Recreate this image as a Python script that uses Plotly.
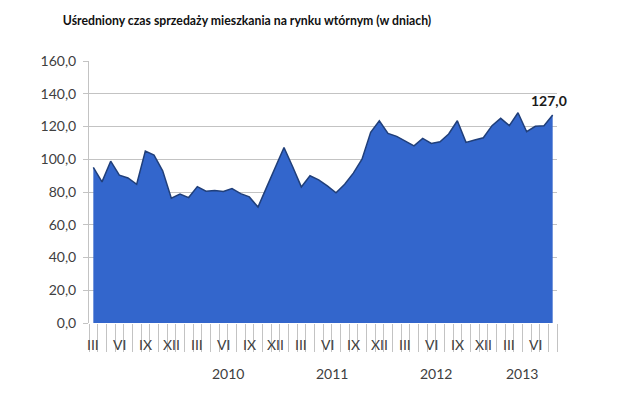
import plotly.graph_objects as go

# ---- data ----
roman = ["I", "II", "III", "IV", "V", "VI", "VII", "VIII", "IX", "X", "XI", "XII"]
year_labels = ["", "2010", "2011", "2012", "2013"]
year_first_month = [3, 1, 1, 1, 1]
year_month_count = [10, 12, 12, 12, 8]
shown_months = ["III", "VI", "IX", "XII"]
values = [95.0, 86.2, 98.8, 90.3, 88.6, 84.7, 105.0, 102.5, 92.9, 76.2,
          78.8, 76.6, 83.3, 80.5, 80.9, 80.3, 82.1, 79.0, 77.0, 70.8,
          83.0, 95.1, 107.2, 95.4, 83.1, 89.9, 87.4, 83.7, 79.5, 84.7,
          91.5, 100.0, 116.4, 123.5, 115.8, 114.0, 110.9, 108.2, 112.7, 109.7,
          110.7, 115.4, 123.5, 110.3, 111.7, 113.1, 120.5, 125.0, 120.5, 128.4,
          116.8, 120.1, 120.5, 127.0]
last_label = "127,0"
title = "Uśredniony czas sprzedaży mieszkania na rynku wtórnym (w dniach)"
y_ticks = [0, 20, 40, 60, 80, 100, 120, 140, 160]

# ---- derived categories ----
month_names = []
group_bounds = [-0.5]
for first, cnt in zip(year_first_month, year_month_count):
    for m in range(first, first + cnt):
        month_names.append(roman[m - 1])
    group_bounds.append(group_bounds[-1] + cnt)
x = list(range(len(values)))

TEXT = "#404040"
GRID = "#c3c3c3"
FONT = "Lato"

fig = go.Figure()
fig.add_trace(go.Scatter(
    x=x, y=values, mode="lines", fill="tozeroy",
    line=dict(color="#203f7a", width=1.5),
    fillcolor="#3366cc", hoverinfo="skip", showlegend=False))

annotations = []
for i, name in enumerate(month_names):
    if name in shown_months:
        annotations.append(dict(x=i, y=0, xref="x", yref="y", yshift=-21,
                                text=name, showarrow=False,
                                font=dict(family=FONT, size=14, color=TEXT)))
for k, lab in enumerate(year_labels):
    if lab:
        annotations.append(dict(x=(group_bounds[k] + group_bounds[k + 1]) / 2, y=0,
                                xref="x", yref="y", yshift=-50, text=lab,
                                showarrow=False,
                                font=dict(family=FONT, size=14, color=TEXT)))
annotations.append(dict(x=x[-1], y=values[-1], xref="x", yref="y", yshift=15,
                        xshift=-4, text="<b>" + last_label + "</b>", showarrow=False,
                        font=dict(family=FONT, size=14, color="#1a1a1a")))

fig.update_layout(
    width=640, height=393,
    margin=dict(l=89, r=83, t=61, b=70),
    paper_bgcolor="white", plot_bgcolor="white",
    title=dict(text="<b>" + title + "</b>", x=247 / 640, xanchor="center",
               y=1 - 21 / 393, yanchor="middle",
               font=dict(family=FONT, size=12.25, color="#111111")),
    annotations=annotations,
    xaxis=dict(range=[-0.5, len(values) - 0.5], showgrid=False, zeroline=False,
               showline=False, tickmode="array", tickvals=group_bounds,
               ticktext=[""] * len(group_bounds), ticks="outside", ticklen=54,
               tickcolor=GRID, tickwidth=1,
               minor=dict(tickmode="array",
                          tickvals=[i - 0.5 for i in range(len(values) + 1)],
                          ticks="outside", ticklen=28, tickcolor=GRID, tickwidth=1)),
    yaxis=dict(range=[0, 160], tickmode="array", tickvals=y_ticks,
               ticktext=[f"{v:.1f}".replace(".", ",") for v in y_ticks],
               showgrid=True, gridcolor=GRID, gridwidth=1, zeroline=False,
               showline=True, linecolor=GRID, linewidth=1,
               ticks="outside", ticklen=5, tickcolor=GRID, ticklabelstandoff=4,
               tickfont=dict(family=FONT, size=14, color=TEXT)),
)
fig.write_html("out.html")
